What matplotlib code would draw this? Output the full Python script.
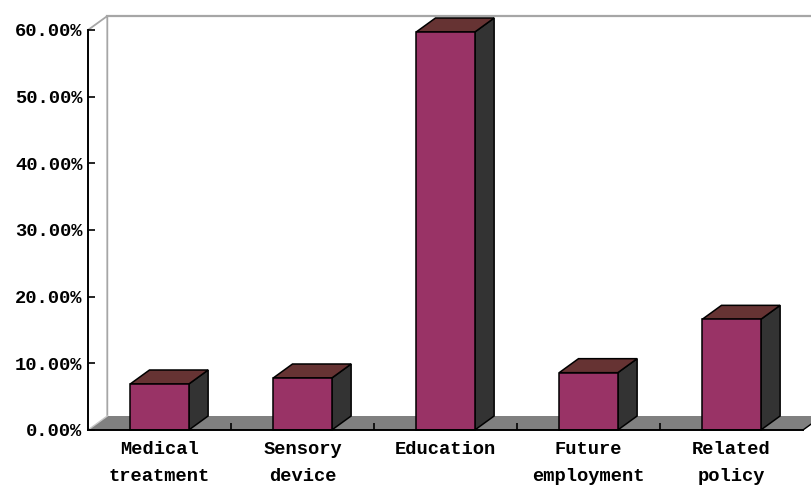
import matplotlib
matplotlib.use("Agg")
import matplotlib.pyplot as plt
from matplotlib.patches import Polygon

# Share of responses by topic (percent)
categories = ["Medical\ntreatment", "Sensory\ndevice", "Education",
              "Future\nemployment", "Related\npolicy"]
values = [6.9, 7.8, 59.7, 8.6, 16.6]
yticks = [0, 10, 20, 30, 40, 50, 60]

FRONT = "#993366"
TOP = "#663333"
SIDE = "#333333"
FLOOR = "#808080"
WALL = "#a6a6a6"

W, H = 811, 487
fig = plt.figure(figsize=(W / 100, H / 100), dpi=100)
fig.patch.set_facecolor("white")
ax = fig.add_axes([88 / W, (H - 430) / H, 715 / W, 400 / H])
n = len(categories)
ax.set_xlim(0, n)
ax.set_ylim(0, 60)
ax.set_facecolor("none")

# depth offset of the pseudo-3D box (x in category units, y in percent)
dx, dy = 0.135, 2.1
top = 60 + dy

# back wall outline
ax.plot([0, dx, dx], [60, top, dy], color=WALL, lw=1.3, clip_on=False, zorder=1)
ax.plot([dx, n + 1], [top, top], color=WALL, lw=1.6, clip_on=False, zorder=1)

# floor
floor = Polygon([(0, 0), (n, 0), (n + dx, dy), (dx, dy)], closed=True,
                facecolor=FLOOR, edgecolor="none", clip_on=False, zorder=1)
ax.add_patch(floor)
ax.plot([0, dx], [0, dy], color="#c8c8c8", lw=1.0, clip_on=False, zorder=1.5)
ax.plot([n, n + dx], [0, dy], color="black", lw=1.0, clip_on=False, zorder=1.5)

# bars: front face, top face, side face
hw = 0.205
for i, v in enumerate(values):
    c = i + 0.5
    x0, x1 = c - hw, c + hw
    side = Polygon([(x1, 0), (x1 + dx, dy), (x1 + dx, v + dy), (x1, v)],
                   facecolor=SIDE, edgecolor="black", lw=1.1,
                   clip_on=False, zorder=3)
    topf = Polygon([(x0, v), (x1, v), (x1 + dx, v + dy), (x0 + dx, v + dy)],
                   facecolor=TOP, edgecolor="black", lw=1.1,
                   clip_on=False, zorder=3)
    front = Polygon([(x0, 0), (x1, 0), (x1, v), (x0, v)],
                    facecolor=FRONT, edgecolor="black", lw=1.1,
                    clip_on=False, zorder=4)
    for p in (side, topf, front):
        ax.add_patch(p)

# axes
for s in ("top", "right"):
    ax.spines[s].set_visible(False)
for s in ("left", "bottom"):
    ax.spines[s].set_color("black")
    ax.spines[s].set_linewidth(1.4)
    ax.spines[s].set_zorder(5)

font = dict(family=["Liberation Mono", "DejaVu Sans Mono"], weight="bold")

ax.set_yticks(yticks)
ax.set_yticklabels([f"{t:.2f}%" for t in yticks], fontsize=13.5, **font)
ax.tick_params(axis="y", direction="in", length=5, width=1.2, pad=4,
               colors="black")

ax.set_xticks([i + 0.5 for i in range(n)])
ax.set_xticklabels(categories, fontsize=13.5, linespacing=1.75, **font)
ax.tick_params(axis="x", which="major", length=0, pad=8)
ax.set_xticks(list(range(1, n)), minor=True)
ax.tick_params(axis="x", which="minor", direction="in", length=5, width=1.2,
               colors="black")

fig.savefig("out.png", dpi=100, facecolor="white")
